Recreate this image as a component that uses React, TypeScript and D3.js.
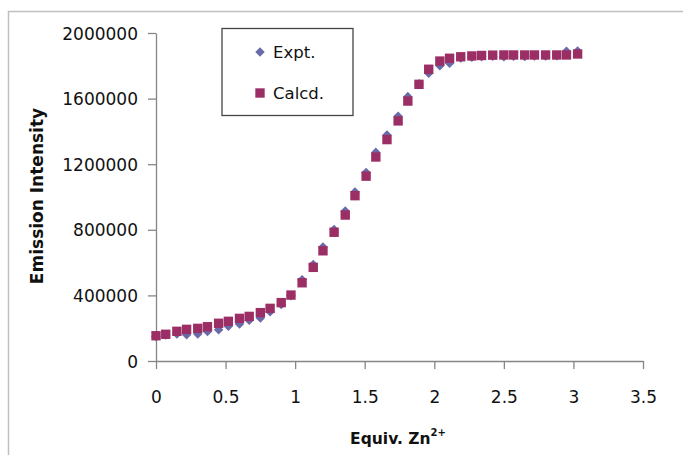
import React, { useEffect, useRef } from 'react';
import * as d3 from 'd3';

// equivalents of Zn2+ added
const equiv = [
  0, 0.07, 0.15, 0.22, 0.30, 0.37, 0.45, 0.52, 0.60, 0.67, 0.75, 0.82, 0.90, 0.97,
  1.05, 1.13, 1.20, 1.28, 1.36, 1.43, 1.51, 1.58, 1.66, 1.74, 1.81, 1.89, 1.96,
  2.04, 2.11, 2.19, 2.27, 2.34, 2.42, 2.50, 2.57, 2.65, 2.72, 2.80, 2.88, 2.95, 3.03,
];

// experimental emission intensity
const expt = [
  150000, 158000, 165000, 160000, 165000, 180000, 190000, 212000, 225000, 248000,
  262000, 300000, 345000, 398000, 495000, 588000, 695000, 802000, 915000, 1030000,
  1150000, 1272000, 1378000, 1492000, 1612000, 1690000, 1755000, 1800000, 1815000,
  1848000, 1852000, 1856000, 1858000, 1855000, 1858000, 1857000, 1860000, 1860000,
  1862000, 1888000, 1890000,
];

// calculated (fitted) emission intensity
const calcd = [
  154000, 163000, 181000, 193000, 199000, 209000, 230000, 242000, 260000, 272000,
  295000, 321000, 356000, 402000, 477000, 571000, 672000, 785000, 890000, 1008000,
  1127000, 1244000, 1350000, 1464000, 1585000, 1687000, 1779000, 1829000, 1846000,
  1855000, 1860000, 1863000, 1865000, 1866000, 1866000, 1866000, 1866000, 1866000,
  1866000, 1866000, 1872000,
];

const xTicks = [0, 0.5, 1, 1.5, 2, 2.5, 3, 3.5];
const yTicks = [0, 400000, 800000, 1200000, 1600000, 2000000];

const W = 683;
const H = 455;
const FONT = '"DejaVu Sans", sans-serif';

const App = () => {
  const ref = useRef<SVGSVGElement | null>(null);

  useEffect(() => {
    const svg = d3.select(ref.current);
    svg.selectAll('*').remove();

    const x = d3.scaleLinear().domain([0, 3.5]).range([156, 643]);
    const y = d3.scaleLinear().domain([0, 2000000]).range([361, 33]);

    // outer frame
    svg.append('rect')
      .attr('x', 8.5).attr('y', 11.5)
      .attr('width', 700).attr('height', 500)
      .attr('fill', 'white')
      .attr('stroke', '#c0c0c0')
      .attr('stroke-width', 1.5);

    // axes
    const xAxis = svg.append('g')
      .attr('transform', `translate(0,${y(0)})`)
      .call(d3.axisBottom(x).tickValues(xTicks).tickSize(8).tickSizeOuter(0).tickPadding(22)
        .tickFormat(d => String(d)));
    const yAxis = svg.append('g')
      .attr('transform', `translate(${x(0)},0)`)
      .call(d3.axisLeft(y).tickValues(yTicks).tickSize(8).tickSizeOuter(0).tickPadding(10)
        .tickFormat(d => String(d)));

    [xAxis, yAxis].forEach(g => {
      g.select('.domain').attr('stroke', '#868686').attr('stroke-width', 1.3);
      g.selectAll('.tick line').attr('stroke', '#868686').attr('stroke-width', 1.3);
      g.selectAll('.tick text')
        .attr('fill', '#111')
        .style('font-family', FONT)
        .style('font-size', '17px');
    });
    yAxis.selectAll('.tick text').attr('dy', '0.36em');

    // series
    const diamond = d3.symbol().type(d3.symbolDiamond2).size(58);
    const square = d3.symbol().type(d3.symbolSquare).size(88);

    svg.append('g').selectAll('path')
      .data(equiv.map((e, i) => [e, expt[i]]))
      .enter().append('path')
      .attr('transform', d => `translate(${x(d[0])},${y(d[1])})`)
      .attr('d', diamond())
      .attr('fill', '#6A6AA8');

    svg.append('g').selectAll('path')
      .data(equiv.map((e, i) => [e, calcd[i]]))
      .enter().append('path')
      .attr('transform', d => `translate(${x(d[0])},${y(d[1])})`)
      .attr('d', square())
      .attr('fill', '#9B2F65');

    // legend
    const lg = svg.append('g');
    lg.append('rect')
      .attr('x', 222).attr('y', 28.5)
      .attr('width', 131).attr('height', 87)
      .attr('fill', 'white')
      .attr('stroke', '#444')
      .attr('stroke-width', 1.3);
    lg.append('path').attr('transform', 'translate(260,52)').attr('d', diamond()).attr('fill', '#6A6AA8');
    lg.append('path').attr('transform', 'translate(260,93)').attr('d', square()).attr('fill', '#9B2F65');
    lg.append('text').attr('x', 273).attr('y', 58)
      .style('font-family', FONT).style('font-size', '16.5px').attr('fill', '#111')
      .text('Expt.');
    lg.append('text').attr('x', 273).attr('y', 99)
      .style('font-family', FONT).style('font-size', '16.5px').attr('fill', '#111')
      .text('Calcd.');

    // axis titles
    svg.append('text')
      .attr('transform', 'translate(43,196) rotate(-90)')
      .attr('text-anchor', 'middle')
      .style('font-family', FONT).style('font-size', '17px').style('font-weight', 'bold')
      .attr('fill', '#111')
      .text('Emission Intensity');

    const xt = svg.append('text')
      .attr('x', 398).attr('y', 444)
      .attr('text-anchor', 'middle')
      .style('font-family', FONT).style('font-size', '15.5px').style('font-weight', 'bold')
      .attr('fill', '#111');
    xt.append('tspan').text('Equiv. Zn');
    xt.append('tspan').attr('dy', -8).style('font-size', '10px').text('2+');
  }, []);

  return (
    <svg
      ref={ref}
      width={W}
      height={H}
      style={{ position: 'absolute', left: 0, top: 0, background: 'white' }}
    />
  );
};

export default App;
